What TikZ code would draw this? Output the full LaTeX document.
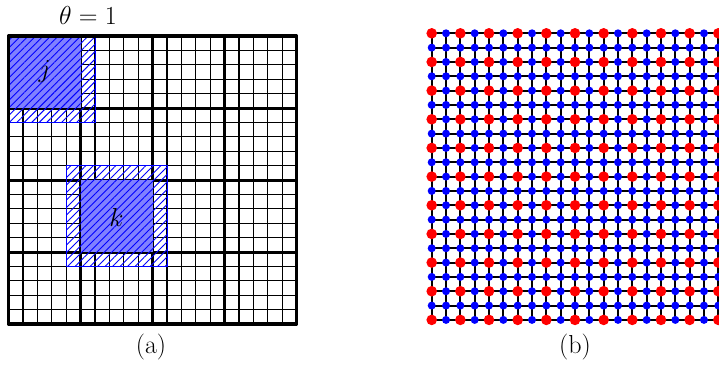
\documentclass[tikz,border=0pt]{standalone}
\usepackage{fix-cm}
\usetikzlibrary{patterns.meta}
\begin{document}
\begin{tikzpicture}[x=1pt,y=-1pt,
  fine/.style={line width=1.2pt, black},
  coarse/.style={line width=3pt, black},
  frame/.style={line width=3.2pt, black, line join=round},
  hatch/.style={pattern={Lines[angle=45,distance=5.3pt,line width=0.9pt]}, pattern color=blue},
  band/.style={hatch, draw=blue, line width=0.8pt},
  boxfill/.style={fill=blue!50},
  lbl/.style={font=\fontsize{26}{30}\selectfont, inner sep=0pt},
  bond/.style={line width=2pt, black}]
\useasboundingbox (0,0) rectangle (719,364);

% fine grid
\foreach \i in {0,...,20} {
  \draw[fine] ({8.5+14.4*\i},36) -- ({8.5+14.4*\i},324);
  \draw[fine] (8.5,{36+14.4*\i}) -- (296.5,{36+14.4*\i});
}
% coarse grid
\foreach \i in {1,...,3} {
  \draw[coarse] ({8.5+72*\i},36) -- ({8.5+72*\i},324);
  \draw[coarse] (8.5,{36+72*\i}) -- (296.5,{36+72*\i});
}

% box j
\fill[boxfill] (8.5,36) rectangle (80.5,108);
\draw[band] (8.5,36) rectangle (94.9,122.4);
% box k
\fill[boxfill] (80.5,180) rectangle (152.5,252);
\draw[band] (66.1,165.6) rectangle (166.9,266.4);

% outer frame
\draw[frame] (8.5,36) rectangle (296.5,324);

\node[lbl] (theta) at (88,15) {$\theta=1$};
\node[lbl] (j) at (44.5,72) {$j$};
\node[lbl] (k) at (116.5,217) {$k$};
\node[lbl] (a) at (151,347.5) {(a)};

% lattice (b)
\foreach \i in {0,...,20} {
  \draw[bond] ({431.7+14.33*\i},33.3) -- ({431.7+14.33*\i},319.9);
  \draw[bond] (431.7,{33.3+14.33*\i}) -- (718.3,{33.3+14.33*\i});
}
\foreach \i in {0,...,20} {
  \foreach \j in {0,...,20} {
    \ifodd\i
      \fill[blue] ({431.7+14.33*\i},{33.3+14.33*\j}) circle[radius=4];
    \else
      \ifodd\j
        \fill[blue] ({431.7+14.33*\i},{33.3+14.33*\j}) circle[radius=4];
      \else
        \fill[red] ({431.7+14.33*\i},{33.3+14.33*\j}) circle[radius=5.3];
      \fi
    \fi
  }
}
\node[lbl] (b) at (575,347.5) {(b)};
\end{tikzpicture}
\end{document}
